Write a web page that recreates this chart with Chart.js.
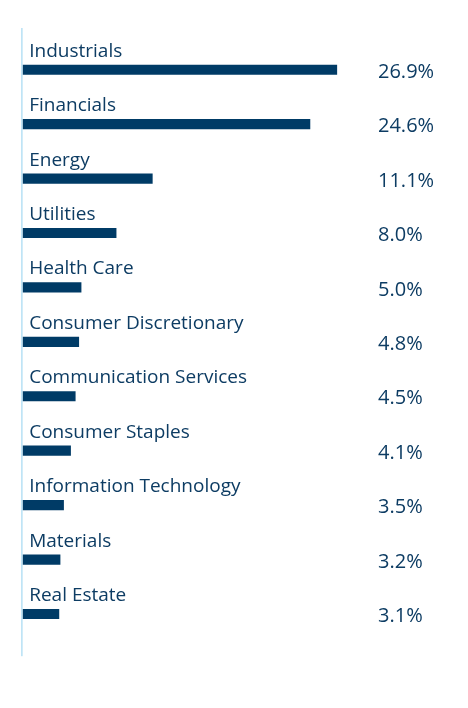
<!DOCTYPE html>
<html lang="en">
    <head>
        <meta charset="UTF-8" />
        <title>Sector Allocation</title>
        <style>
            body {
                margin: 0;
                padding: 0;
                background: #fff;
            }

            #wrap {
                position: relative;
                width: 468px;
                height: 708px;
            }
        </style>
        <script src="https://cdn.jsdelivr.net/npm/chart.js"></script>
    </head>
    <body>
        <div id="wrap"><canvas id="chart"></canvas></div>
        <script>
            const sectors = [
                "Industrials",
                "Financials",
                "Energy",
                "Utilities",
                "Health Care",
                "Consumer Discretionary",
                "Communication Services",
                "Consumer Staples",
                "Information Technology",
                "Materials",
                "Real Estate",
            ];
            const weights = [26.9, 24.6, 11.1, 8.0, 5.0, 4.8, 4.5, 4.1, 3.5, 3.2, 3.1];

            const navy = "#003b66";
            const textNavy = "#0d3c63";
            const font = "'Open Sans', 'Noto Sans', sans-serif";

            // labels above each bar, value to the right, light axis line on the left
            const sectorLabels = {
                id: "sectorLabels",
                beforeDatasetsDraw(chart) {
                    const { ctx, chartArea } = chart;
                    ctx.save();
                    ctx.fillStyle = "#bfe4f6";
                    ctx.fillRect(
                        chartArea.left - 1.7,
                        chartArea.top - 14.5,
                        1.7,
                        chartArea.bottom - chartArea.top + 29.5
                    );
                    ctx.restore();
                },
                afterDatasetsDraw(chart) {
                    const { ctx, chartArea } = chart;
                    const meta = chart.getDatasetMeta(0);
                    ctx.save();
                    ctx.fillStyle = textNavy;
                    meta.data.forEach((bar, i) => {
                        ctx.font = "19px " + font;
                        ctx.textAlign = "left";
                        ctx.textBaseline = "alphabetic";
                        ctx.fillText(sectors[i], chartArea.left + 6.5, bar.y - 13);
                        ctx.font = "20px " + font;
                        ctx.textBaseline = "middle";
                        ctx.fillText(
                            weights[i].toFixed(1) + "%",
                            chartArea.right + 5,
                            bar.y + 2.5
                        );
                    });
                    ctx.restore();
                },
            };

            new Chart(document.getElementById("chart"), {
                type: "bar",
                data: {
                    labels: sectors,
                    datasets: [
                        {
                            data: weights,
                            backgroundColor: navy,
                            barThickness: 9.5,
                        },
                    ],
                },
                options: {
                    indexAxis: "y",
                    responsive: true,
                    maintainAspectRatio: false,
                    animation: false,
                    layout: {
                        padding: { left: 22.7, right: 95, top: 42.5, bottom: 66.8 },
                    },
                    plugins: {
                        legend: { display: false },
                        tooltip: { enabled: false },
                    },
                    scales: {
                        x: {
                            display: false,
                            min: 0,
                            max: 30,
                        },
                        y: {
                            display: false,
                        },
                    },
                },
                plugins: [sectorLabels],
            });
        </script>
    </body>
</html>
